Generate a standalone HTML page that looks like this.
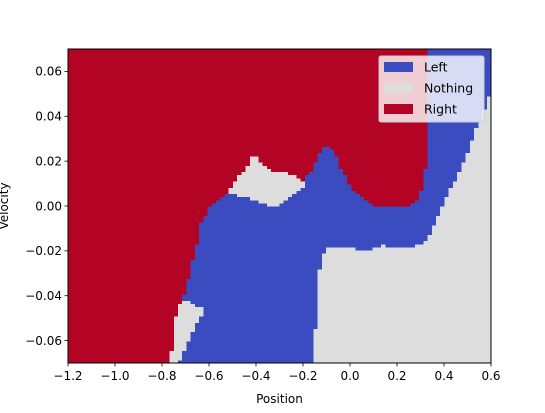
<!DOCTYPE html>
<html><head><meta charset="utf-8"><style>
body{margin:0;background:#fff;}
svg text{font-family:"DejaVu Sans","Liberation Sans",sans-serif;}
</style></head>
<body>
<svg id="chart" width="545" height="408" viewBox="0 0 545 408" xmlns="http://www.w3.org/2000/svg">
<g id="cells" shape-rendering="crispEdges"></g>
<g id="axes"></g>
<g id="legend"></g>
</svg>
<script>
// ---- data ----
const classNames = ['Left', 'Nothing', 'Right'];
const classColors = {L: '#3b4cc0', N: '#dddddd', R: '#b40426'};
const posRange = [-1.2, 0.6];
const velRange = [-0.07, 0.07];
const gridRows = 100;
// per position column (100 columns, left to right): runs from bottom, "class + top row index"
const columnRuns = [
"R100","R100","R100","R100","R100","R100","R100","R100","R100","R100",
"R100","R100","R100","R100","R100","R100","R100","R100","R100","R100",
"R100","R100","R100","R100",
"N4 R100","N15 R100","L1 N19 R100","L4 N20 L22 R100","L7 N20 L27 R100",
"L10 N19 L33 R100","L13 N18 L38 R100","L15 N18 L45 R100",
"L47 R100","L50 R100","L51 R100","L52 R100","L53 R100","L54 R100",
"L54 N56 R100","L54 N58 R100","L53 N60 R100","L53 N61 R100","L53 N63 R100",
"L52 N66 R100","L52 N66 R100","L51 N64 R100","L51 N63 R100","L50 N62 R100",
"L50 N61 R100","L50 N61 R100","L51 N61 R100","L52 N61 R100","L53 N60 R100",
"L54 N60 R100","L55 N59 R100","L56 N58 R100",
"L60 R100","L61 R100",
"N11 L64 R100","N30 L67 R100","N35 L69 R100","N37 L69 R100","N37 L68 R100",
"N37 L66 R100","N37 L62 R100","N37 L60 R100","N37 L57 R100","N37 L55 R100",
"N36 L54 R100","N36 L53 R100","N36 L52 R100","N36 L51 R100",
"N37 L50 R100","N37 L50 R100","N38 L50 R100",
"N37 L50 R100","N37 L50 R100","N37 L50 R100","N37 L50 R100","N37 L50 R100","N37 L50 R100",
"N37 L51 R100","N38 L52 R100","N38 L55 R100","N39 L62 R100",
"N41 L100","N44 L100","N47 L100","N50 L100","N53 L100","N56 L100","N58 L100",
"N61 L100","N64 L100","N67 L100","N71 L100","N75 L100","N77 L100","N81 L100","N85 L100"
];
const xTicks = [-1.2, -1.0, -0.8, -0.6, -0.4, -0.2, 0.0, 0.2, 0.4, 0.6];
const xTickLabels = ['\u22121.2','\u22121.0','\u22120.8','\u22120.6','\u22120.4','\u22120.2','0.0','0.2','0.4','0.6'];
const yTicks = [-0.06, -0.04, -0.02, 0.0, 0.02, 0.04, 0.06];
const yTickLabels = ['\u22120.06','\u22120.04','\u22120.02','0.00','0.02','0.04','0.06'];

// ---- axis functions ----
const PL = 68, PR = 491, PT = 49, PB = 363;
function xScale(p){ return PL + (p - posRange[0]) / (posRange[1] - posRange[0]) * (PR - PL); }
function yScale(v){ return PB - (v - velRange[0]) / (velRange[1] - velRange[0]) * (PB - PT); }
function rowToVel(r){ return velRange[0] + r / gridRows * (velRange[1] - velRange[0]); }

const NS = 'http://www.w3.org/2000/svg';
function mk(tag, attrs, parent){
  const e = document.createElementNS(NS, tag);
  for (const k in attrs) e.setAttribute(k, attrs[k]);
  parent.appendChild(e);
  return e;
}

// ---- cells ----
const cellsG = document.getElementById('cells');
const nCols = columnRuns.length;
const colW = (posRange[1] - posRange[0]) / nCols;
columnRuns.forEach((runStr, i) => {
  const p0 = posRange[0] + i * colW, p1 = p0 + colW;
  const x0 = xScale(p0), x1 = xScale(p1);
  let bottom = 0;
  runStr.split(' ').forEach(tok => {
    const cls = tok[0], top = parseInt(tok.slice(1), 10);
    const yTop = yScale(rowToVel(top)), yBot = yScale(rowToVel(bottom));
    const r = mk('rect', {x: x0.toFixed(2), y: yTop.toFixed(2), width: (x1 - x0 + 0.6).toFixed(2), height: (yBot - yTop + 0.6).toFixed(2), fill: classColors[cls]}, cellsG);
    
    
    bottom = top;
  });
});

// ---- axes ----
const axesG = document.getElementById('axes');
const frame = mk('rect', {x: PL, y: PT, width: PR - PL, height: PB - PT, fill: 'none', stroke: '#000', 'stroke-width': 1}, axesG);


xTicks.forEach((t, k) => {
  const x = xScale(t);
  const tk = mk('line', {x1: x, y1: PB, x2: x, y2: PB + 3.5, stroke: '#000', 'stroke-width': 0.8}, axesG);
  
  
  const lb = mk('text', {x: x, y: PB + 17, 'font-size': 12, 'text-anchor': 'middle', fill: '#000'}, axesG);
  lb.textContent = xTickLabels[k];
  
  
});
yTicks.forEach((t, k) => {
  const y = yScale(t);
  const tk = mk('line', {x1: PL - 3.5, y1: y, x2: PL, y2: y, stroke: '#000', 'stroke-width': 0.8}, axesG);
  
  
  const lb = mk('text', {x: PL - 6, y: y + 4.3, 'font-size': 12, 'text-anchor': 'end', fill: '#000'}, axesG);
  lb.textContent = yTickLabels[k];
  
  
});
const xt = mk('text', {x: (PL + PR) / 2, y: 403, 'font-size': 12, 'text-anchor': 'middle', fill: '#000'}, axesG);
xt.textContent = 'Position';


const yt = mk('text', {x: 0, y: 0, 'font-size': 12, 'text-anchor': 'middle', fill: '#000', transform: 'translate(8,' + ((PT + PB) / 2) + ') rotate(-90)'}, axesG);
yt.textContent = 'Velocity';



// ---- legend ----
const legG = document.getElementById('legend');
const lbox = mk('rect', {x: 379, y: 56, width: 105, height: 66, rx: 2, fill: '#ffffff', 'fill-opacity': 0.8, stroke: '#cccccc', 'stroke-width': 1}, legG);


const legendKeys = ['L', 'N', 'R'];
classNames.forEach((name, k) => {
  const y = 62 + k * 21;
  const sw = mk('rect', {x: 384, y: y, width: 29, height: 10, fill: classColors[legendKeys[k]]}, legG);
  
  
  const tx = mk('text', {x: 424, y: y + 9.5, 'font-size': 12.5, fill: '#000'}, legG);
  tx.textContent = name;
  
  
});
</script>
</body></html>
